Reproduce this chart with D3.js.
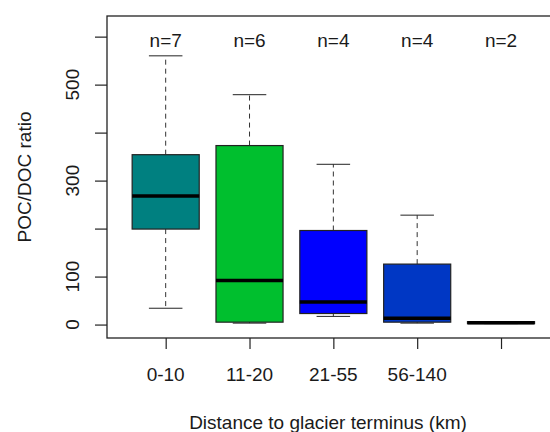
<!DOCTYPE html>
<html>
<head>
<meta charset="utf-8">
<script src="https://cdn.jsdelivr.net/npm/d3@7"></script>
<style>
  html, body { margin: 0; padding: 0; background: #fff; }
  svg { display: block; }
  text { font-family: "Liberation Sans", Arial, sans-serif; fill: #1a1a1a; }
</style>
</head>
<body>
<script>
// groups and five-number summaries
const groups = ['0-10', '11-20', '21-55', '56-140', '']
const counts = [7, 6, 4, 4, 2]
const lowWhisker = [34, 3, 17, 3, 2]
const q1 = [199, 5, 23, 5, 2]
const median = [268, 92, 47, 13, 4]
const q3 = [354, 373, 196, 126, 6]
const highWhisker = [560, 479, 334, 228, 6]
const fills = ['#008080', '#00BF2E', '#0000FF', '#0037C4', '#333333']

const yTicks = [0, 100, 200, 300, 400, 500, 600]
const yTickLabels = [0, 100, 300, 500]

const width = 550, height = 432

const svg = d3.select('body').append('svg')
    .attr('width', width).attr('height', height)

const x = d3.scaleLinear().domain([0.3, 5.7]).range([107, 559.7])
const y = d3.scaleLinear().domain([-28, 643]).range([338, 16])
const boxW = (x(2) - x(1)) * 0.8

const data = groups.map((g, i) => ({
    g, i, pos: i + 1, n: counts[i],
    lo: lowWhisker[i], q1: q1[i], med: median[i], q3: q3[i], hi: highWhisker[i],
    fill: fills[i]
}))

// boxes
const box = svg.append('g').selectAll('g').data(data).join('g')
    .attr('transform', d => `translate(${x(d.pos)},0)`)

box.append('line')
    .attr('y1', d => y(d.q3)).attr('y2', d => y(d.hi))
    .attr('stroke', '#333').attr('stroke-dasharray', '5,4')
box.append('line')
    .attr('y1', d => y(d.q1)).attr('y2', d => y(d.lo))
    .attr('stroke', '#333').attr('stroke-dasharray', '5,4')
box.append('line')
    .attr('x1', -boxW / 4).attr('x2', boxW / 4)
    .attr('y1', d => y(d.hi)).attr('y2', d => y(d.hi))
    .attr('stroke', '#222')
box.append('line')
    .attr('x1', -boxW / 4).attr('x2', boxW / 4)
    .attr('y1', d => y(d.lo)).attr('y2', d => y(d.lo))
    .attr('stroke', '#222')
box.append('rect')
    .attr('x', -boxW / 2).attr('width', boxW)
    .attr('y', d => y(d.q3)).attr('height', d => y(d.q1) - y(d.q3))
    .attr('fill', d => d.fill).attr('stroke', '#222').attr('stroke-width', 1.2)
box.append('line')
    .attr('x1', -boxW / 2).attr('x2', boxW / 2)
    .attr('y1', d => y(d.med)).attr('y2', d => y(d.med))
    .attr('stroke', '#000').attr('stroke-width', 3.5)

// n labels
svg.append('g').selectAll('text').data(data).join('text')
    .attr('x', d => x(d.pos)).attr('y', 46.5)
    .attr('text-anchor', 'middle').attr('font-size', 19)
    .text(d => `n=${d.n}`)

// frame
svg.append('rect')
    .attr('x', x(0.3)).attr('y', y(643))
    .attr('width', x(5.7) - x(0.3)).attr('height', y(-28) - y(643))
    .attr('fill', 'none').attr('stroke', '#222').attr('stroke-width', 1.3)

// y axis
const yAxis = svg.append('g')
    .attr('transform', `translate(${x(0.3)},0)`)
    .call(d3.axisLeft(y).tickValues(yTicks).tickSize(12).tickFormat(''))
yAxis.select('.domain').remove()
yAxis.selectAll('line').attr('stroke', '#222').attr('stroke-width', 1.2)
svg.append('g').selectAll('text').data(yTickLabels).join('text')
    .attr('transform', d => `translate(78.5,${y(d)}) rotate(-90)`)
    .attr('text-anchor', 'middle').attr('font-size', 19)
    .text(d => d)

// x axis
const xAxis = svg.append('g')
    .attr('transform', `translate(0,${y(-28)})`)
    .call(d3.axisBottom(x).tickValues(data.map(d => d.pos)).tickSize(11).tickFormat(''))
xAxis.select('.domain').remove()
xAxis.selectAll('line').attr('stroke', '#222').attr('stroke-width', 1.2)
svg.append('g').selectAll('text').data(data).join('text')
    .attr('x', d => x(d.pos)).attr('y', 381)
    .attr('text-anchor', 'middle').attr('font-size', 19)
    .text(d => d.g)

// axis titles
svg.append('text')
    .attr('x', 328).attr('y', 429)
    .attr('text-anchor', 'middle').attr('font-size', 19)
    .text('Distance to glacier terminus (km)')
svg.append('text')
    .attr('transform', `translate(31,177) rotate(-90)`)
    .attr('text-anchor', 'middle').attr('font-size', 19)
    .text('POC/DOC ratio')
</script>
</body>
</html>
